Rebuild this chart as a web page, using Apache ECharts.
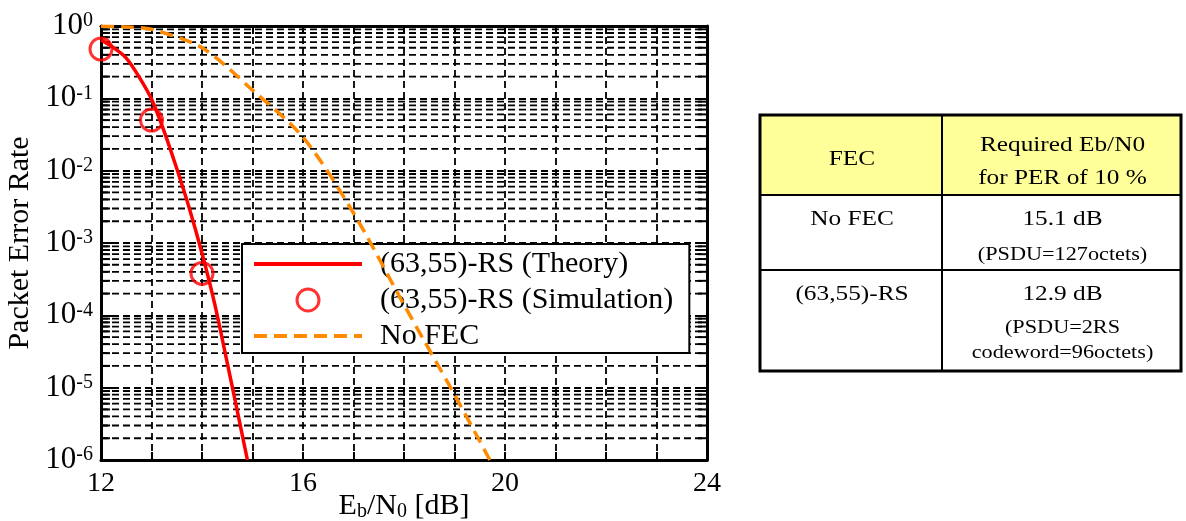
<!DOCTYPE html>
<html>
<head>
<meta charset="utf-8">
<script src="https://cdn.jsdelivr.net/npm/echarts@6/dist/echarts.min.js"></script>
<style>
html, body { margin: 0; padding: 0; background: #fff; }
#chart { width: 1186px; height: 521px; }
</style>
</head>
<body>
<div id="chart"></div>
<script>
// values
var theoryEb = [12, 12.25, 12.5, 12.75, 13, 13.25, 13.5, 13.75, 14, 14.25, 14.5, 14.75, 14.9];
var theoryPer = [0.64, 0.5, 0.36, 0.2, 0.098, 0.035, 0.0107, 3.0e-3, 7.2e-4, 1.45e-4, 2.2e-5, 3.2e-6, 1e-6];
var simEb = [12, 13, 14];
var simPer = [0.48, 0.05, 3.8e-4];
var noFecEb = [12, 12.5, 13, 14, 15, 16, 17, 18, 19, 19.7];
var noFecPer = [0.99, 0.97, 0.9, 0.5, 0.13, 0.029, 2.6e-3, 1.4e-4, 8e-6, 1e-6];
var xTickLabels = [12, 16, 20, 24];
var decades = [-6, -5, -4, -3, -2, -1];

var tableHead = ['FEC', 'Required Eb/N0', 'for PER of 10 %'];
var tableRow1 = ['No FEC', '15.1 dB', '(PSDU=127octets)'];
var tableRow2 = ['(63,55)-RS', '12.9 dB', '(PSDU=2RS', 'codeword=96octets)'];

var serif = '"Liberation Serif", "Times New Roman", serif';

function zip(a, b) {
    return a.map(function (v, i) { return [v, b[i]]; });
}

// minor grid values 2..9 x 10^d
var minorValues = [];
decades.forEach(function (d) {
    for (var k = 2; k <= 9; k++) {
        minorValues.push([12, k * Math.pow(10, d)]);
    }
});

var myChart = echarts.init(document.getElementById('chart'));

var axisLine = { onZero: false, lineStyle: { color: '#000', width: 3 } };
var gridDash = { color: '#000', width: 1.8, type: [7, 4] };
var noSymbol = { color: 'rgba(0,0,0,0)', borderWidth: 0 };

var option = {
    animation: false,
    backgroundColor: '#fff',
    grid: { left: 101, top: 26, width: 606, height: 434, containLabel: false, outerBoundsMode: 'none' },
    legend: {
        orient: 'vertical',
        left: 242,
        top: 244,
        itemWidth: 108,
        itemHeight: 22,
        itemGap: 6,
        padding: [5, 16, 2, 10],
        backgroundColor: '#fff',
        borderColor: '#000',
        borderWidth: 2,
        borderRadius: 0,
        selectedMode: false,
        textStyle: { fontFamily: serif, fontSize: 30, color: '#000', lineHeight: 30, padding: [0, 0, 0, 13] },
        data: [
            { name: '(63,55)-RS (Theory)', itemStyle: noSymbol, lineStyle: { width: 4 } },
            { name: '(63,55)-RS (Simulation)', icon: 'circle',
              itemStyle: { color: 'rgba(0,0,0,0)', borderColor: '#ff0000', borderWidth: 3 } },
            { name: 'No FEC', itemStyle: noSymbol, lineStyle: { width: 4 } }
        ]
    },
    xAxis: [{
        type: 'value',
        min: 12, max: 24, interval: 1,
        name: '{a|E}{s|b}{a|/N}{s|0}{a| [dB]}',
        nameLocation: 'middle',
        nameGap: 30,
        nameMoveOverlap: false,
        nameTextStyle: {
            rich: {
                a: { fontFamily: serif, fontSize: 30, color: '#000', lineHeight: 32 },
                s: { fontFamily: serif, fontSize: 20, color: '#000', lineHeight: 14, verticalAlign: 'bottom' }
            }
        },
        axisLine: axisLine,
        axisTick: { inside: true, length: 8, lineStyle: { color: '#000', width: 2 } },
        axisLabel: {
            margin: 10,
            fontFamily: serif, fontSize: 28, color: '#000',
            showMinLabel: true, showMaxLabel: true,
            formatter: function (v) { return xTickLabels.indexOf(v) >= 0 ? String(v) : ''; }
        },
        splitLine: { show: true, lineStyle: gridDash }
    }, {
        type: 'value',
        position: 'top',
        min: 12, max: 24, interval: 1,
        axisLine: axisLine,
        axisTick: { inside: true, length: 8, lineStyle: { color: '#000', width: 2 } },
        axisLabel: { show: false },
        splitLine: { show: false }
    }],
    yAxis: [{
        type: 'log',
        logBase: 10,
        min: 1e-6, max: 1,
        splitNumber: 6,
        name: 'Packet Error Rate',
        nameLocation: 'middle',
        nameGap: 66,
        nameMoveOverlap: false,
        nameTextStyle: { fontFamily: serif, fontSize: 30, color: '#000' },
        axisLine: axisLine,
        axisTick: { inside: true, length: 12, lineStyle: { color: '#000', width: 2 } },
        axisLabel: {
            margin: 8,
            formatter: function (v) {
                var e = Math.round(Math.log10(v));
                return '{b|10}{e|' + e + '}';
            },
            rich: {
                b: { fontFamily: serif, fontSize: 31, color: '#000', lineHeight: 30 },
                e: { fontFamily: serif, fontSize: 20, color: '#000', lineHeight: 14, verticalAlign: 'top' }
            }
        },
        splitLine: { show: true, lineStyle: gridDash }
    }, {
        type: 'log',
        logBase: 10,
        min: 1e-6, max: 1,
        splitNumber: 6,
        position: 'right',
        axisLine: axisLine,
        axisTick: { inside: true, length: 12, lineStyle: { color: '#000', width: 2 } },
        axisLabel: { show: false },
        splitLine: { show: false }
    }],
    series: [{
        // minor log grid: dashed line across + short solid ticks at both edges
        name: 'minor grid',
        type: 'custom',
        silent: true,
        z: 1,
        encode: { x: 0, y: 1 },
        data: minorValues,
        renderItem: function (params, api) {
            var p = api.coord([api.value(0), api.value(1)]);
            var x0 = params.coordSys.x, x1 = x0 + params.coordSys.width;
            return {
                type: 'group',
                children: [{
                    type: 'line',
                    shape: { x1: x0, y1: p[1], x2: x1, y2: p[1] },
                    style: { stroke: '#000', lineWidth: 1.8, lineDash: [7, 4] }
                }, {
                    type: 'line',
                    shape: { x1: x0, y1: p[1], x2: x0 + 9, y2: p[1] },
                    style: { stroke: '#000', lineWidth: 2 }
                }, {
                    type: 'line',
                    shape: { x1: x1 - 9, y1: p[1], x2: x1, y2: p[1] },
                    style: { stroke: '#000', lineWidth: 2 }
                }]
            };
        }
    }, {
        name: '(63,55)-RS (Theory)',
        type: 'line',
        data: zip(theoryEb, theoryPer),
        smooth: 0.3,
        symbol: 'none',
        z: 5,
        lineStyle: { color: '#ff0000', width: 3.5 },
        itemStyle: { color: '#ff0000' }
    }, {
        name: '(63,55)-RS (Simulation)',
        type: 'scatter',
        data: zip(simEb, simPer),
        clip: false,
        symbol: 'circle',
        symbolSize: 22,
        z: 6,
        itemStyle: { color: 'rgba(0,0,0,0)', borderColor: '#ff0000', borderWidth: 3 }
    }, {
        name: 'No FEC',
        type: 'line',
        data: zip(noFecEb, noFecPer),
        smooth: 0.3,
        symbol: 'none',
        z: 5,
        lineStyle: { color: '#ff8a00', width: 3.5, type: [13, 7] },
        itemStyle: { color: '#ff8a00' }
    }],
    graphic: buildTable()
};

// table on the right, drawn with graphic elements
function buildTable() {
    var L = 760, M = 942, R = 1181;
    var T = 115, H1 = 195, H2 = 270, B = 371;
    var cx1 = (L + M) / 2 + 1, cx2 = (M + R) / 2 + 1;
    var els = [];
    els.push({ type: 'rect', shape: { x: L, y: T, width: R - L, height: H1 - T }, style: { fill: '#ffff99' } });
    els.push({ type: 'rect', shape: { x: L, y: T, width: R - L, height: B - T }, style: { fill: 'none', stroke: '#000', lineWidth: 3 } });
    els.push({ type: 'line', shape: { x1: L, y1: H1, x2: R, y2: H1 }, style: { stroke: '#000', lineWidth: 2 } });
    els.push({ type: 'line', shape: { x1: L, y1: H2, x2: R, y2: H2 }, style: { stroke: '#000', lineWidth: 2 } });
    els.push({ type: 'line', shape: { x1: M, y1: T, x2: M, y2: B }, style: { stroke: '#000', lineWidth: 2 } });
    function txt(s, x, y, size) {
        els.push({
            type: 'text', x: x, y: y, scaleX: size > 20 ? 1.15 : 1.17,
            style: { text: s, x: 0, y: 0, align: 'center', verticalAlign: 'middle',
                     font: size + 'px ' + serif, fill: '#000' }
        });
    }
    txt(tableHead[0], cx1, 159, 22);
    txt(tableHead[1], cx2, 145, 22);
    txt(tableHead[2], cx2, 178, 22);
    txt(tableRow1[0], cx1, 219, 22);
    txt(tableRow1[1], cx2, 219, 22);
    txt(tableRow1[2], cx2, 255, 19);
    txt(tableRow2[0], cx1, 294, 22);
    txt(tableRow2[1], cx2, 294, 22);
    txt(tableRow2[2], cx2, 328, 19);
    txt(tableRow2[3], cx2, 353, 19);
    return els;
}

myChart.setOption(option);
window.addEventListener('resize', function () {
    myChart.resize();
});
</script>
</body>
</html>
